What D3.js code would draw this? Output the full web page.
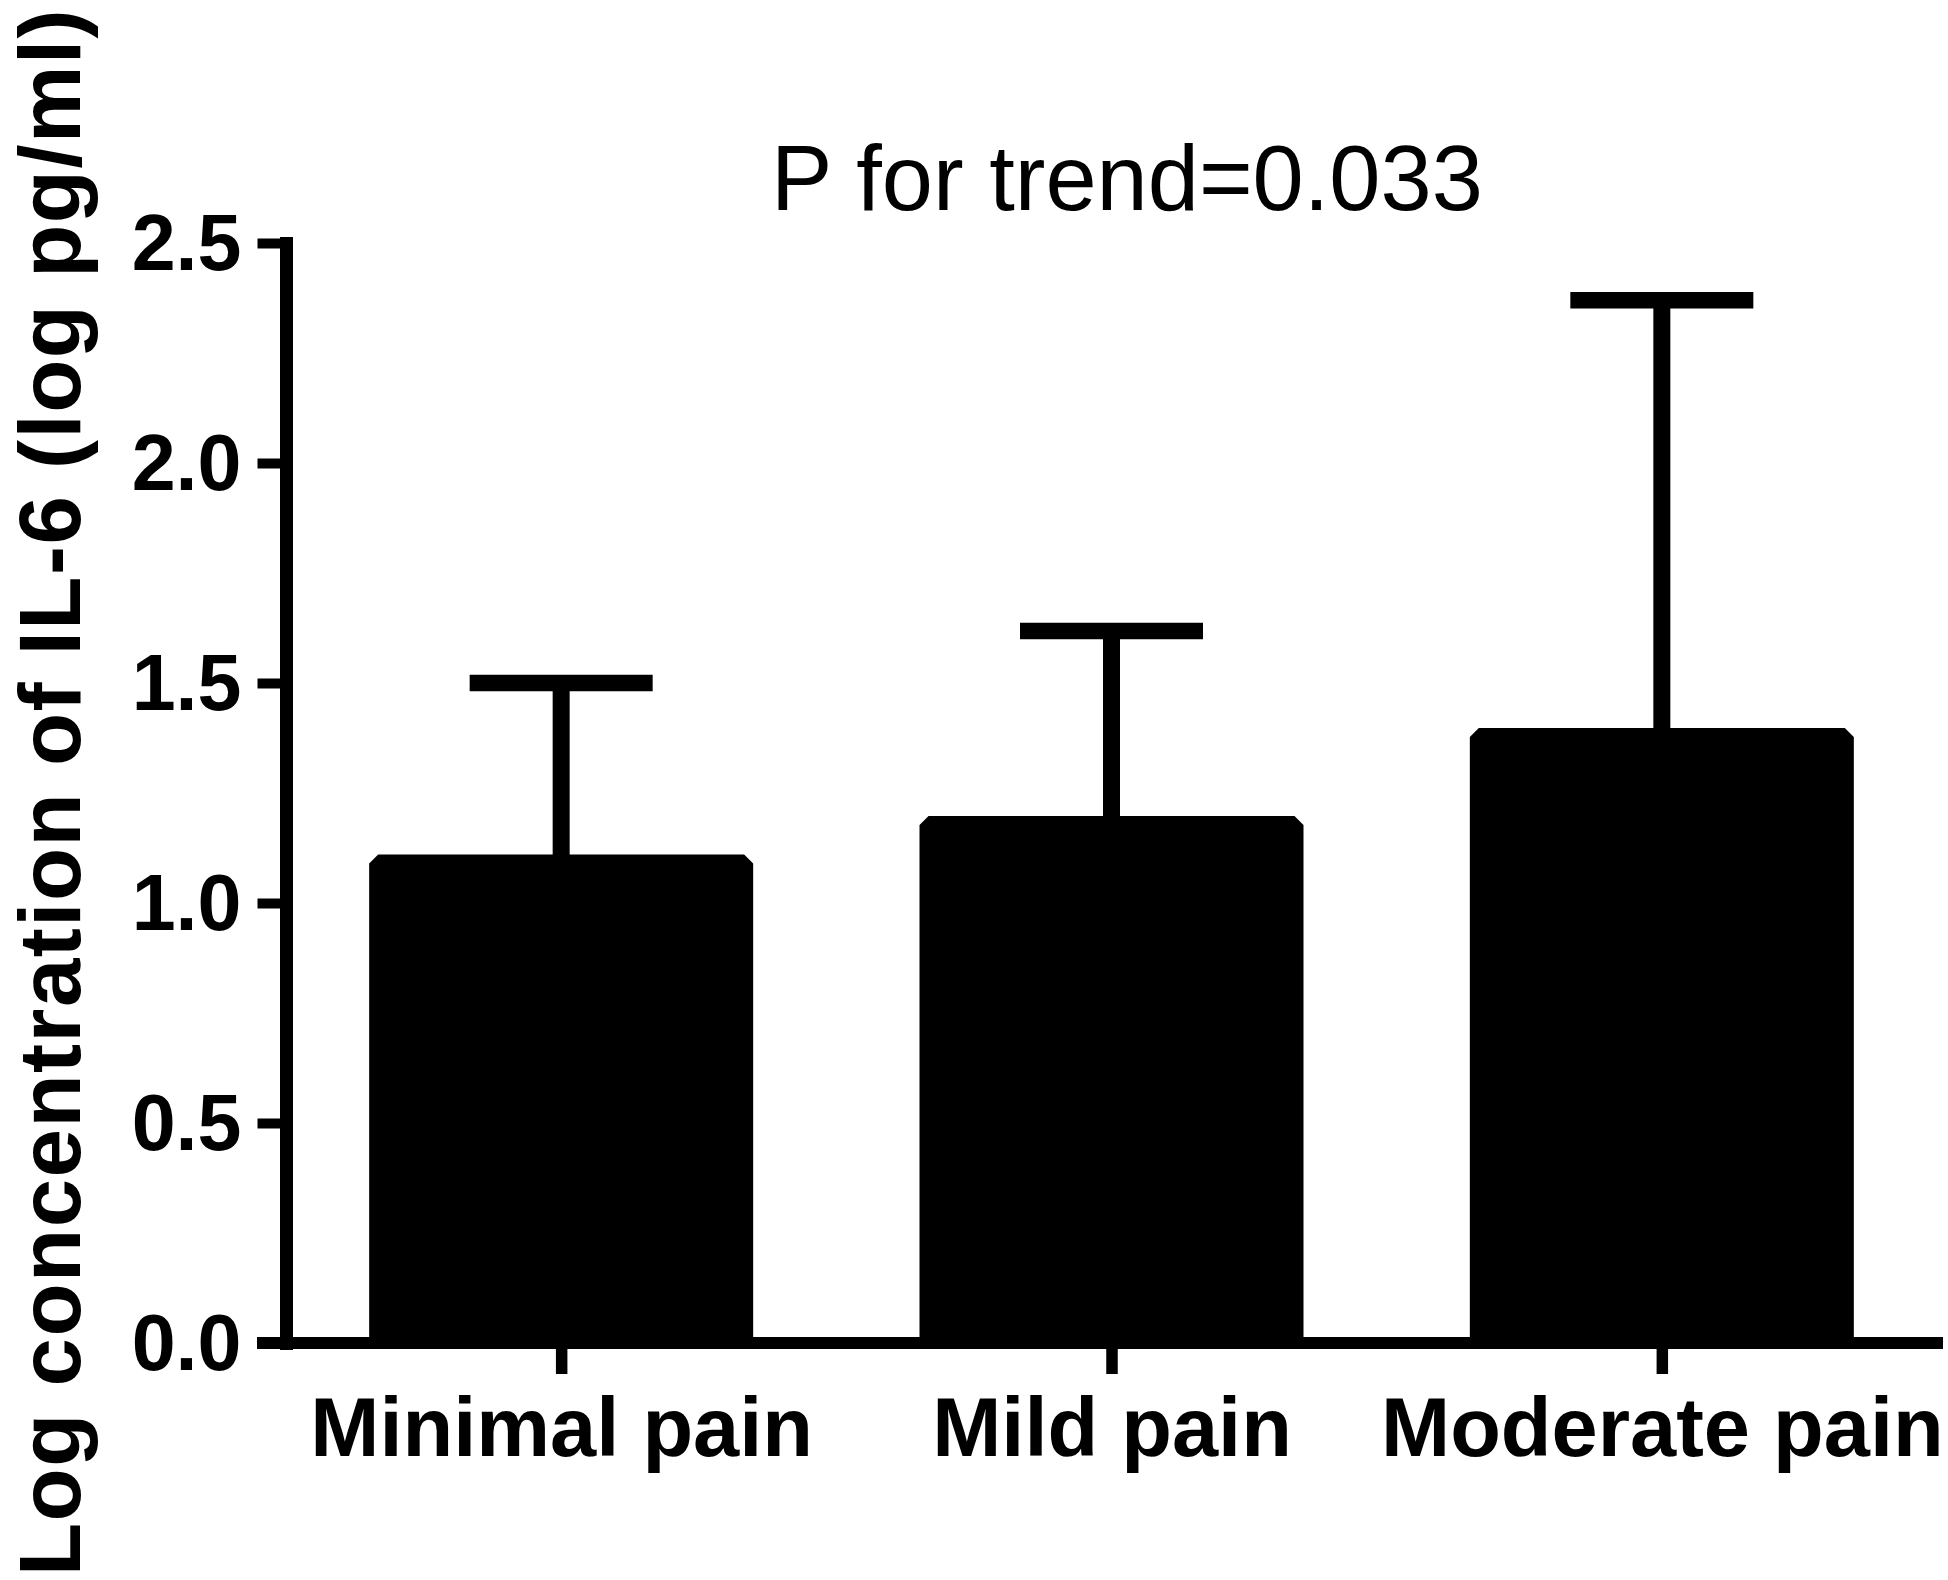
<!DOCTYPE html>
<html>
<head>
<meta charset="utf-8">
<script src="https://cdn.jsdelivr.net/npm/d3@7/dist/d3.min.js"></script>
<style>
  html, body { margin: 0; padding: 0; background: #fff; }
  svg { display: block; }
</style>
</head>
<body>
<div id="chart"></div>
<script>
// ---- data ----
const categories = ["Minimal pain", "Mild pain", "Moderate pain"];
const means = [1.09, 1.177, 1.377];
const errors = [0.41, 0.441, 0.993];
const yTicks = [0.0, 0.5, 1.0, 1.5, 2.0, 2.5];
const yDomain = [0, 2.5];
const titleText = "P for trend=0.033";
const yLabel = "Log concentration of IL-6 (log pg/ml)";

// ---- layout ----
const W = 1948, H = 1580;
const axisX = 286;      // y-axis position
const plotRight = 1937;
const y0 = 1343, yTop = 243;
const font = "'Liberation Sans', Arial, Helvetica, sans-serif";

const svg = d3.select("#chart").append("svg")
  .attr("width", W).attr("height", H)
  .attr("viewBox", `0 0 ${W} ${H}`);

const x = d3.scalePoint().domain(categories).range([axisX, plotRight]).padding(0.5);
const y = d3.scaleLinear().domain(yDomain).range([y0, yTop]);

const barW = 366;
const data = categories.map((c, i) => ({ c, m: means[i], e: errors[i] }));

// bars
svg.append("g").selectAll("rect").data(data).join("rect")
  .attr("x", d => x(d.c) - barW / 2)
  .attr("y", d => y(d.m))
  .attr("width", barW)
  .attr("height", d => y(0) - 3 - y(d.m))
  .attr("fill", "#000")
  .attr("stroke", "#000")
  .attr("stroke-width", 18)
  .attr("stroke-linejoin", "bevel");

// error bars
const eg = svg.append("g").attr("stroke", "#000");
eg.selectAll("line.stem").data(data).join("line")
  .attr("class", "stem")
  .attr("x1", d => x(d.c)).attr("x2", d => x(d.c))
  .attr("y1", d => y(d.m)).attr("y2", d => y(d.m + d.e))
  .attr("stroke-width", 17);
eg.selectAll("line.cap").data(data).join("line")
  .attr("class", "cap")
  .attr("x1", d => x(d.c) - 91.5).attr("x2", d => x(d.c) + 91.5)
  .attr("y1", d => y(d.m + d.e)).attr("y2", d => y(d.m + d.e))
  .attr("stroke-width", 16.5);

// y axis
const yAxis = svg.append("g")
  .attr("transform", `translate(${axisX},0)`)
  .call(d3.axisLeft(y).tickValues(yTicks).tickSize(28.5).tickSizeOuter(0)
    .tickPadding(16).tickFormat(d3.format(".1f")));
yAxis.select(".domain").attr("stroke", "#000").attr("stroke-width", 13)
  .attr("stroke-linecap", "square");
yAxis.selectAll(".tick line").attr("stroke", "#000").attr("stroke-width", 10);
yAxis.selectAll(".tick text")
  .attr("fill", "#000")
  .style("font-family", font).style("font-weight", "bold").style("font-size", "79px")
  .attr("dy", "0.34em");

// x axis
const xAxis = svg.append("g")
  .attr("transform", `translate(0,${y0})`)
  .call(d3.axisBottom(x).tickSize(31).tickSizeOuter(0).tickPadding(23));
xAxis.select(".domain").remove();
xAxis.append("line")
  .attr("x1", axisX - 23).attr("x2", plotRight)
  .attr("y1", 0).attr("y2", 0)
  .attr("stroke", "#000").attr("stroke-width", 12).attr("stroke-linecap", "square");
xAxis.selectAll(".tick line").attr("stroke", "#000").attr("stroke-width", 11.5);
xAxis.selectAll(".tick text")
  .attr("fill", "#000")
  .style("font-family", font).style("font-weight", "bold").style("font-size", "83px");

// title
svg.append("text")
  .attr("x", 771).attr("y", 210)
  .attr("text-anchor", "start")
  .style("font-family", font).style("font-size", "92px")
  .attr("fill", "#000")
  .text(titleText);

// y label
svg.append("text")
  .attr("transform", `translate(80,792) rotate(-90)`)
  .attr("text-anchor", "middle")
  .style("font-family", font).style("font-weight", "bold").style("font-size", "87px")
  .style("letter-spacing", "1.5px")
  .attr("fill", "#000")
  .text(yLabel);
</script>
</body>
</html>
